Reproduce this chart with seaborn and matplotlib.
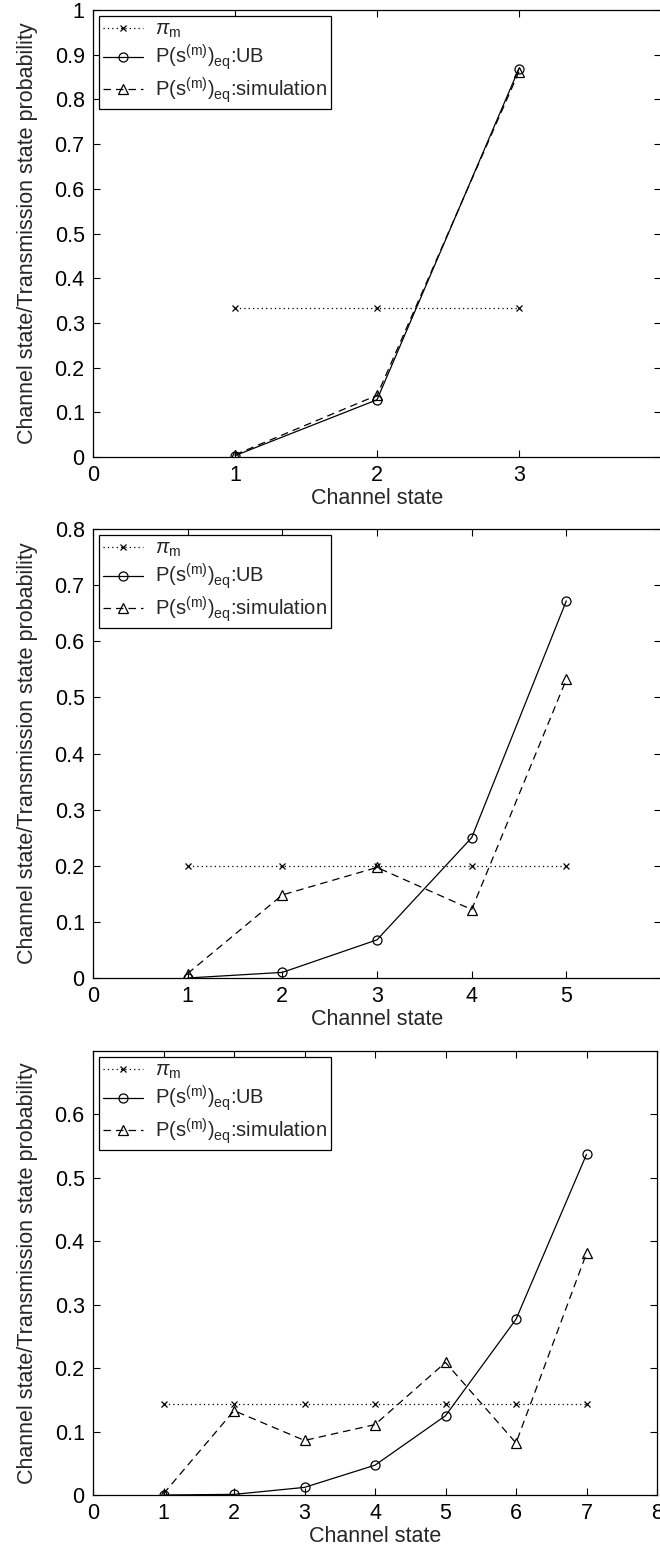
import numpy as np
import pandas as pd
import matplotlib
matplotlib.use("Agg")
import matplotlib.pyplot as plt
import seaborn as sns

# ---- data ----
states1 = [1, 2, 3]
pi1 = [1/3, 1/3, 1/3]
ub1 = [0.003, 0.128, 0.869]
sim1 = [0.005, 0.138, 0.862]

states2 = [1, 2, 3, 4, 5]
pi2 = [0.2, 0.2, 0.2, 0.2, 0.2]
ub2 = [0.0, 0.010, 0.068, 0.250, 0.672]
sim2 = [0.008, 0.148, 0.197, 0.122, 0.532]

states3 = [1, 2, 3, 4, 5, 6, 7]
pi3 = [1/7] * 7
ub3 = [0.0, 0.001, 0.012, 0.047, 0.125, 0.277, 0.537]
sim3 = [0.002, 0.133, 0.086, 0.111, 0.209, 0.082, 0.381]

xlims = [(0, 4), (0, 6), (0, 8)]
ylims = [(0, 1.0), (0, 0.8), (0, 0.7)]
xticks = [[0, 1, 2, 3], [0, 1, 2, 3, 4, 5], [0, 1, 2, 3, 4, 5, 6, 7, 8]]
yticks = [np.round(np.arange(0, 1.01, 0.1), 1),
          np.round(np.arange(0, 0.81, 0.1), 1),
          np.round(np.arange(0, 0.61, 0.1), 1)]

labels = [r'$\pi_{\mathrm{m}}$',
          r'P(s$^{\mathrm{(m)}}$)$_{\mathrm{eq}}$:UB',
          r'P(s$^{\mathrm{(m)}}$)$_{\mathrm{eq}}$:simulation']

sns.set_style("ticks")
plt.rcParams['font.family'] = ['Liberation Sans', 'DejaVu Sans']
plt.rcParams['mathtext.fontset'] = 'custom'
plt.rcParams['mathtext.rm'] = 'Liberation Sans'
plt.rcParams['mathtext.it'] = 'Liberation Sans:italic'
plt.rcParams['mathtext.bf'] = 'Liberation Sans:bold'
plt.rcParams['mathtext.sf'] = 'Liberation Sans'

W, H = 660, 1551
fig = plt.figure(figsize=(W / 100, H / 100), dpi=100)

# axes boxes in pixels: left, right, top, bottom
boxes = [(93, 661, 10, 457), (93, 661, 529, 978), (93, 657, 1051, 1495)]

datasets = [(states1, pi1, ub1, sim1), (states2, pi2, ub2, sim2), (states3, pi3, ub3, sim3)]

FS = 15.5
LFS = 14.5
for i, ((l, r, t, b), (st, pi, ub, sim)) in enumerate(zip(boxes, datasets)):
    ax = fig.add_axes([l / W, (H - b) / H, (r - l) / W, (b - t) / H])
    df = pd.DataFrame({'state': st, 'pi': pi, 'ub': ub, 'sim': sim})
    sns.lineplot(data=df, x='state', y='pi', ax=ax, color='k', linestyle=(0, (1, 2.5)),
                 lw=0.9, marker='x', markersize=4.5, markeredgewidth=0.9,
                 markeredgecolor='k', markerfacecolor='k', label=labels[0])
    sns.lineplot(data=df, x='state', y='ub', ax=ax, color='k', linestyle='-',
                 lw=0.9, marker='o', markersize=6.5, markerfacecolor='none',
                 markeredgecolor='k', markeredgewidth=0.9, label=labels[1])
    sns.lineplot(data=df, x='state', y='sim', ax=ax, color='k', linestyle=(0, (6, 4)),
                 lw=0.9, marker='^', markersize=6.5, markerfacecolor='none',
                 markeredgecolor='k', markeredgewidth=0.9, label=labels[2])
    ax.set_xlim(*xlims[i])
    ax.set_ylim(*ylims[i])
    ax.set_xticks(xticks[i])
    ax.set_xticklabels([f'{v:g}' for v in xticks[i]])
    ax.set_yticks(yticks[i])
    ax.set_yticklabels([f'{v:g}' for v in yticks[i]])
    ax.tick_params(direction='in', top=True, right=True, length=5, width=0.8,
                   labelsize=FS, pad=6, colors='k')
    for s in ax.spines.values():
        s.set_visible(True)
        s.set_linewidth(0.9)
        s.set_color('k')
    ax.set_xlabel('Channel state', fontsize=FS, labelpad=1)
    ax.set_ylabel('Channel state/Transmission state probability', fontsize=FS, labelpad=12)
    leg = ax.legend(loc='upper left', fontsize=LFS, frameon=True, fancybox=False,
                    edgecolor='k', framealpha=1, borderaxespad=0.3, handlelength=2.0,
                    handletextpad=0.6, labelspacing=0.12, borderpad=0.2)
    leg.get_frame().set_linewidth(0.9)

fig.savefig('out.png', dpi=100)
